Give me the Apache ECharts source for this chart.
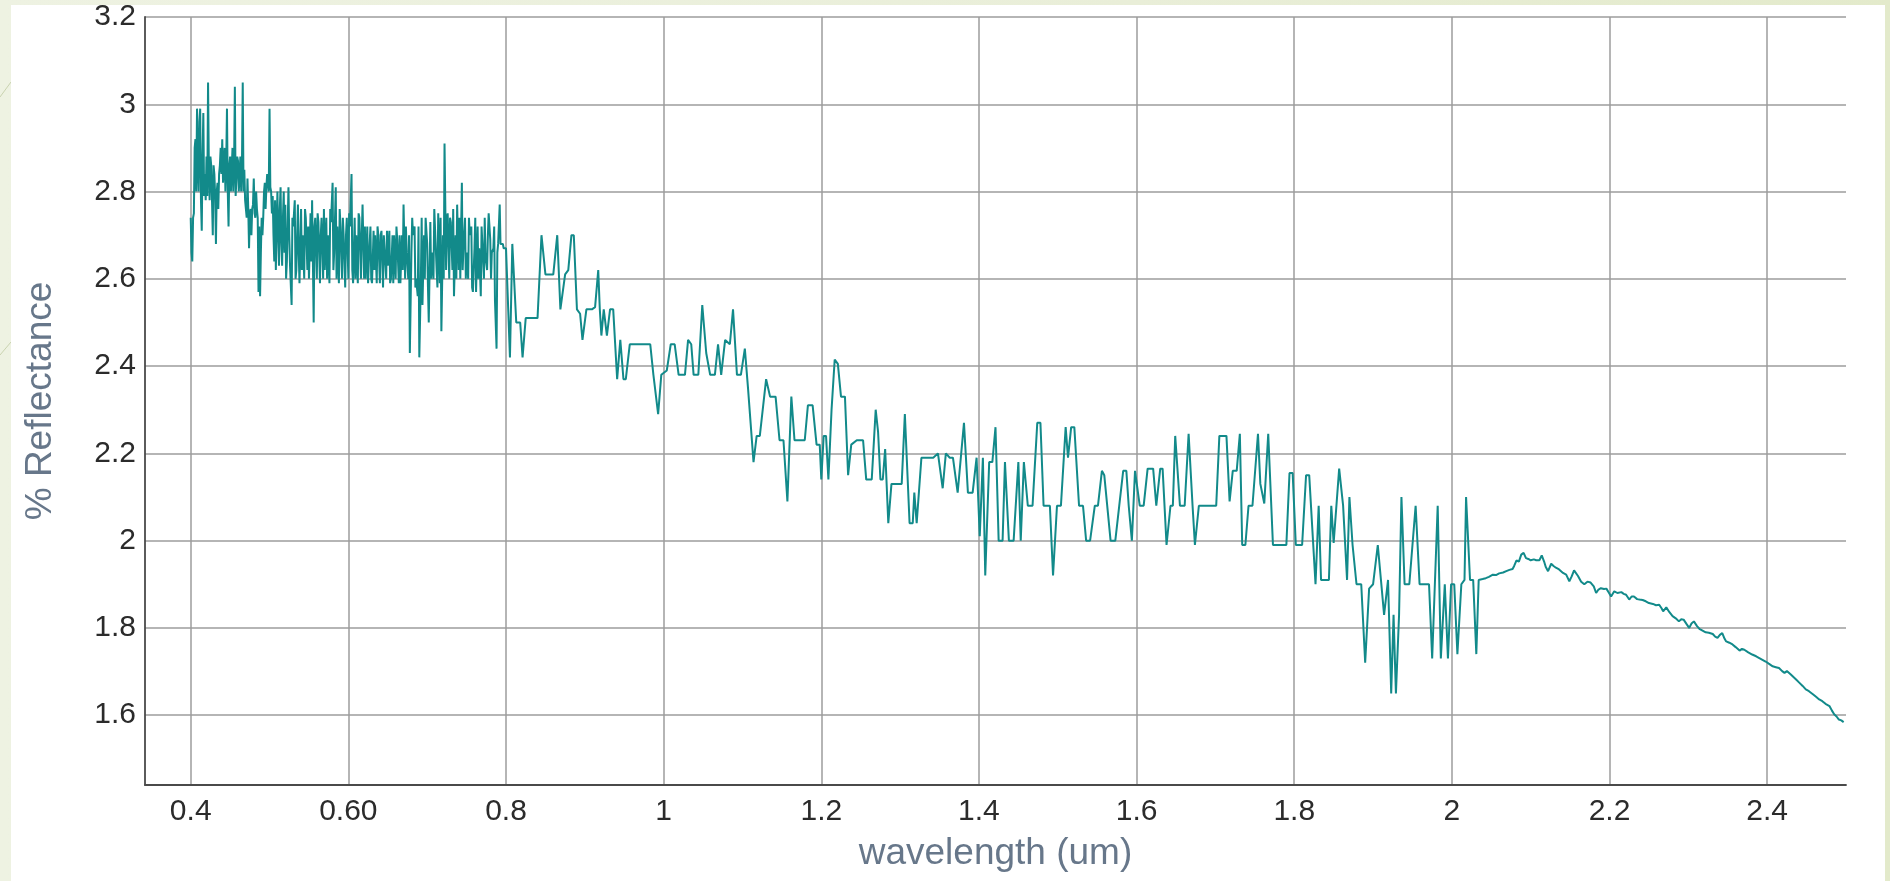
<!DOCTYPE html>
<html>
<head>
<meta charset="utf-8">
<script src="https://cdn.jsdelivr.net/npm/echarts@6/dist/echarts.min.js"></script>
<style>
  html, body { margin: 0; padding: 0; width: 1890px; height: 881px; overflow: hidden;
    background: linear-gradient(90deg, #eef2e2 0%, #e9eed8 60%, #e3eacb 100%); }
  #panel { position: absolute; left: 11px; top: 5px; width: 1874px; height: 876px; background: #ffffff; }
  #decor { position: absolute; left: 0; top: 0; }
  #chart { position: absolute; left: 0; top: 0; width: 1890px; height: 881px; }
</style>
</head>
<body>
<svg id="decor" width="1890" height="881">
  <line x1="0" y1="97" x2="11" y2="82" stroke="#c9d3b0" stroke-width="1"/>
  <line x1="0" y1="355" x2="11" y2="342" stroke="#c9d3b0" stroke-width="1"/>
</svg>
<div id="panel"></div>
<div id="chart"></div>
<script>
// Reflectance spectrum, [wavelength (um), % reflectance]
const blueBand = [
  [0.400,2.74],[0.401,2.66],[0.402,2.64],[0.403,2.74],[0.404,2.75],[0.405,2.90],[0.406,2.92],[0.407,2.80],[0.408,2.99],[0.409,2.86],
  [0.410,2.80],[0.411,2.96],[0.412,2.99],[0.413,2.78],[0.414,2.71],[0.415,2.88],[0.416,2.98],[0.417,2.79],[0.418,2.84],[0.419,2.78],
  [0.420,2.88],[0.421,2.79],[0.422,3.05],[0.423,2.86],[0.424,2.78],[0.425,2.88],[0.426,2.86],[0.427,2.78],[0.428,2.70],[0.429,2.86],
  [0.430,2.84],[0.431,2.79],[0.432,2.68],[0.433,2.80],[0.434,2.82],[0.435,2.76],[0.436,2.84],[0.437,2.86],[0.438,2.90],[0.439,2.84],
  [0.440,2.92],[0.441,2.82],[0.442,2.86],[0.443,2.90],[0.444,2.80],[0.445,2.86],[0.446,2.99],[0.447,2.80],[0.448,2.72],[0.449,2.86],
  [0.450,2.88],[0.451,2.80],[0.452,2.85],[0.453,2.90],[0.454,2.80],[0.455,2.86],[0.456,3.04],[0.457,2.79],[0.458,2.83],[0.459,2.88],
  [0.460,2.87],[0.461,2.80],[0.462,2.84],[0.463,2.88],[0.464,2.80],[0.465,2.86],[0.466,3.05],[0.467,2.80],[0.468,2.85],[0.469,2.78],
  [0.470,2.76],[0.471,2.74],[0.472,2.83],[0.473,2.76],[0.474,2.67],[0.475,2.75],[0.476,2.76],[0.477,2.70],[0.478,2.76],[0.479,2.77],
  [0.480,2.83],[0.481,2.75],[0.482,2.74],[0.483,2.80],[0.484,2.76],[0.485,2.74],[0.486,2.57],[0.487,2.72],[0.488,2.56],[0.489,2.66],
  [0.490,2.74],[0.491,2.70],[0.492,2.74],[0.493,2.80],[0.494,2.82],[0.495,2.76],[0.496,2.81],[0.497,2.84],[0.498,2.82],[0.499,2.80],
  [0.500,2.99],[0.501,2.81],[0.502,2.80],[0.503,2.75],[0.504,2.79],[0.505,2.70],[0.506,2.64],[0.507,2.78],[0.508,2.62],[0.509,2.72],
  [0.510,2.80],[0.511,2.70],[0.512,2.63],[0.513,2.76],[0.514,2.81],[0.515,2.68],[0.516,2.63],[0.517,2.74],[0.518,2.80],[0.519,2.66]
];

const visBand = [
  [0.520,2.77],[0.521,2.60],[0.522,2.64],[0.524,2.81],[0.525,2.70],[0.526,2.63],[0.528,2.54],[0.529,2.74],[0.530,2.72],[0.532,2.78],
  [0.533,2.60],[0.534,2.62],[0.536,2.77],[0.537,2.66],[0.538,2.59],[0.540,2.76],[0.541,2.62],[0.542,2.70],[0.544,2.60],[0.545,2.76],
  [0.546,2.74],[0.548,2.62],[0.549,2.72],[0.550,2.60],[0.552,2.75],[0.553,2.64],[0.554,2.78],[0.556,2.50],[0.557,2.72],[0.558,2.74],
  [0.560,2.60],[0.561,2.75],[0.562,2.73],[0.564,2.59],[0.565,2.70],[0.566,2.74],[0.568,2.60],[0.569,2.76],[0.570,2.62],[0.572,2.74],
  [0.573,2.60],[0.574,2.70],[0.576,2.59],[0.577,2.76],[0.578,2.73],[0.580,2.82],[0.581,2.62],[0.582,2.66],[0.584,2.81],[0.585,2.60],
  [0.586,2.72],[0.588,2.59],[0.589,2.76],[0.590,2.72],[0.592,2.60],[0.593,2.74],[0.594,2.70],[0.596,2.58],[0.597,2.70],[0.598,2.74],
  [0.600,2.60],[0.601,2.75],[0.602,2.72],[0.604,2.84],[0.605,2.62],[0.606,2.59],[0.608,2.74],[0.609,2.60],[0.610,2.70],[0.612,2.59],
  [0.613,2.75],[0.614,2.74],[0.616,2.60],[0.617,2.70],[0.618,2.77],[0.620,2.60],[0.621,2.72],[0.622,2.60],[0.624,2.72],[0.625,2.59],
  [0.626,2.64],[0.628,2.72],[0.629,2.60],[0.630,2.59],[0.632,2.71],[0.633,2.62],[0.634,2.70],[0.636,2.59],[0.637,2.72],[0.638,2.70],
  [0.640,2.59],[0.641,2.70],[0.642,2.71],[0.644,2.58],[0.645,2.70],[0.646,2.70],[0.648,2.60],[0.649,2.71],[0.650,2.63],[0.652,2.71],
  [0.653,2.59],[0.654,2.60],[0.656,2.70],[0.657,2.59],[0.658,2.70],[0.660,2.60],[0.661,2.72],[0.662,2.69],[0.664,2.59],[0.665,2.70],
  [0.666,2.59],[0.668,2.70],[0.669,2.62],[0.670,2.77],[0.672,2.60],[0.673,2.72],[0.674,2.66],[0.676,2.60],[0.677,2.70],[0.678,2.43],
  [0.680,2.66],[0.681,2.74],[0.682,2.70],[0.684,2.72],[0.685,2.58],[0.686,2.60],[0.688,2.56],[0.689,2.72],[0.690,2.42],[0.692,2.60],
  [0.693,2.74],[0.694,2.54],[0.696,2.70],[0.697,2.60],[0.698,2.74],[0.700,2.68],[0.701,2.58],[0.702,2.50],[0.704,2.73],[0.705,2.60],
  [0.706,2.66],[0.708,2.60],[0.709,2.76],[0.710,2.76],[0.712,2.62],[0.713,2.58],[0.714,2.75],[0.716,2.59],[0.717,2.74],[0.718,2.48],
  [0.720,2.70],[0.721,2.60],[0.722,2.91],[0.724,2.62],[0.725,2.74],[0.726,2.75],[0.728,2.60],[0.729,2.74],[0.730,2.73],[0.732,2.62],
  [0.733,2.76],[0.734,2.56],[0.736,2.70],[0.737,2.60],[0.738,2.77],[0.740,2.62],[0.741,2.74],[0.742,2.60],[0.744,2.82],[0.745,2.62],
  [0.746,2.67],[0.748,2.74],[0.749,2.60],[0.750,2.66],[0.752,2.60],[0.753,2.74],[0.754,2.70],[0.756,2.72],[0.757,2.58],[0.758,2.57],
  [0.760,2.67],[0.761,2.74],[0.762,2.57],[0.764,2.72],[0.765,2.60],[0.766,2.67],[0.768,2.56],[0.769,2.72],[0.770,2.68],[0.772,2.60],
  [0.773,2.74],[0.774,2.65],[0.776,2.62],[0.777,2.70],[0.778,2.75],[0.780,2.69],[0.781,2.60],[0.782,2.66],[0.784,2.67],[0.785,2.72],
  [0.786,2.55],[0.788,2.44],[0.789,2.66],[0.790,2.68],[0.792,2.77],[0.793,2.68],[0.794,2.68],[0.796,2.68],[0.797,2.67],[0.798,2.67],
  [0.800,2.67]
];

const nirBand = [
  [0.805,2.42],[0.808,2.68],[0.813,2.50],[0.818,2.50],[0.821,2.42],[0.825,2.51],[0.830,2.51],[0.835,2.51],[0.840,2.51],[0.845,2.70],
  [0.850,2.61],[0.855,2.61],[0.860,2.61],[0.865,2.70],[0.869,2.53],[0.875,2.61],[0.879,2.62],[0.883,2.70],[0.886,2.70],[0.890,2.53],
  [0.894,2.52],[0.897,2.46],[0.902,2.53],[0.909,2.53],[0.913,2.535],[0.917,2.62],[0.919,2.53],[0.921,2.47],[0.924,2.53],[0.928,2.47],
  [0.932,2.53],[0.936,2.53],[0.941,2.37],[0.945,2.46],[0.949,2.37],[0.952,2.37],[0.957,2.45],[0.962,2.45],[0.968,2.45],[0.973,2.45],
  [0.978,2.45],[0.983,2.45],[0.987,2.38],[0.993,2.29],[0.997,2.38],[1.004,2.39],[1.009,2.45],[1.014,2.45],[1.019,2.38],[1.023,2.38],
  [1.027,2.38],[1.031,2.46],[1.035,2.45],[1.038,2.38],[1.044,2.38],[1.049,2.54],[1.054,2.43],[1.059,2.38],[1.065,2.38],[1.069,2.45],
  [1.073,2.38],[1.078,2.46],[1.084,2.45],[1.088,2.53],[1.093,2.38],[1.098,2.38],[1.103,2.44],[1.107,2.35],[1.114,2.18],[1.118,2.24],
  [1.122,2.24],[1.130,2.37],[1.135,2.33],[1.142,2.33],[1.147,2.23],[1.152,2.23],[1.157,2.09],[1.162,2.33],[1.166,2.23],[1.173,2.23],
  [1.179,2.23],[1.183,2.31],[1.189,2.31],[1.194,2.22],[1.198,2.22],[1.200,2.14],[1.203,2.24],[1.206,2.24],[1.209,2.14],[1.213,2.30],
  [1.217,2.415],[1.221,2.405],[1.225,2.33],[1.230,2.33],[1.234,2.15],[1.238,2.22],[1.245,2.23],[1.253,2.23],[1.257,2.14],[1.264,2.14],
  [1.269,2.30],[1.272,2.25],[1.275,2.14],[1.278,2.14],[1.281,2.21],[1.285,2.04],[1.289,2.13],[1.293,2.13],[1.302,2.13],[1.306,2.29],
  [1.312,2.04],[1.316,2.04],[1.318,2.11],[1.321,2.04],[1.327,2.19],[1.333,2.19],[1.342,2.19],[1.348,2.20],[1.354,2.12],[1.358,2.20],
  [1.363,2.19],[1.367,2.19],[1.373,2.11],[1.381,2.27],[1.386,2.11],[1.392,2.11],[1.397,2.19]
];

const swirBand = [
  [1.401,2.01],[1.405,2.19],[1.408,1.92],[1.413,2.18],[1.417,2.18],[1.421,2.26],[1.425,2.00],[1.430,2.00],[1.433,2.18],[1.438,2.00],
  [1.444,2.00],[1.450,2.18],[1.453,2.00],[1.457,2.18],[1.462,2.08],[1.468,2.08],[1.474,2.27],[1.478,2.27],[1.482,2.08],[1.490,2.08],
  [1.494,1.92],[1.499,2.08],[1.504,2.08],[1.510,2.26],[1.513,2.19],[1.517,2.26],[1.521,2.26],[1.527,2.08],[1.532,2.08],[1.536,2.00],
  [1.541,2.00],[1.547,2.08],[1.551,2.08],[1.556,2.16],[1.559,2.15],[1.567,2.00],[1.573,2.00],[1.578,2.08],[1.583,2.16],[1.587,2.16],
  [1.590,2.08],[1.594,2.00],[1.598,2.16],[1.604,2.08],[1.609,2.08],[1.614,2.165],[1.621,2.165],[1.625,2.08],[1.630,2.165],[1.633,2.165],
  [1.638,1.99],[1.643,2.08],[1.646,2.08],[1.649,2.24],[1.655,2.08],[1.661,2.08],[1.666,2.245],[1.671,2.08],[1.674,1.99],[1.679,2.08],
  [1.688,2.08],[1.701,2.08],[1.705,2.24],[1.714,2.24],[1.718,2.09],[1.722,2.16],[1.727,2.16],[1.731,2.245],[1.734,1.99],[1.738,1.99],
  [1.742,2.08],[1.747,2.08],[1.754,2.245],[1.757,2.13],[1.762,2.085],[1.767,2.245],[1.773,1.99],[1.781,1.99],[1.790,1.99],[1.794,2.155],
  [1.798,2.155],[1.802,1.99],[1.810,1.99],[1.815,2.15],[1.819,2.15],[1.827,1.90],[1.831,2.08],[1.834,1.91],[1.838,1.91],[1.844,1.91],
  [1.847,2.08],[1.850,1.995],[1.857,2.165],[1.862,2.08],[1.867,1.91],[1.870,2.10],[1.874,1.99],[1.879,1.90],[1.885,1.90],[1.890,1.72],
  [1.895,1.89],[1.900,1.90],[1.906,1.99],[1.910,1.91],[1.914,1.83],[1.919,1.91],[1.923,1.65],[1.926,1.83],[1.929,1.65],[1.933,1.83],
  [1.936,2.10],[1.940,1.90],[1.946,1.90],[1.954,2.08],[1.959,1.90],[1.965,1.90],[1.971,1.90],[1.975,1.73],[1.982,2.08],[1.986,1.73],
  [1.991,1.90],[1.995,1.73],[1.999,1.90],[2.003,1.90],[2.007,1.74],[2.012,1.90],[2.016,1.91],[2.018,2.10],[2.023,1.91],[2.027,1.91],
  [2.031,1.74],[2.034,1.91]
];

const farBand = [
  [2.039,1.912],[2.043,1.914],[2.047,1.917],[2.052,1.922],[2.056,1.921],[2.060,1.925],[2.065,1.927],[2.069,1.930],[2.073,1.933],[2.077,1.935],
  [2.079,1.942],[2.082,1.955],[2.085,1.952],[2.088,1.968],[2.091,1.972],[2.094,1.960],[2.097,1.958],[2.100,1.955],[2.104,1.957],[2.107,1.955],
  [2.111,1.955],[2.114,1.966],[2.117,1.952],[2.119,1.940],[2.122,1.930],[2.126,1.947],[2.129,1.942],[2.132,1.938],[2.136,1.934],[2.141,1.926],
  [2.145,1.922],[2.149,1.907],[2.152,1.918],[2.155,1.932],[2.160,1.919],[2.164,1.906],[2.168,1.900],[2.172,1.906],[2.176,1.904],[2.180,1.895],
  [2.183,1.880],[2.186,1.888],[2.189,1.891],[2.193,1.889],[2.196,1.890],[2.199,1.881],[2.202,1.872],[2.206,1.884],[2.210,1.880],[2.215,1.882],
  [2.218,1.878],[2.221,1.876],[2.225,1.865],[2.228,1.872],[2.231,1.872],[2.235,1.866],[2.238,1.865],[2.242,1.864],[2.246,1.861],[2.250,1.857],
  [2.255,1.855],[2.259,1.852],[2.263,1.853],[2.266,1.845],[2.268,1.838],[2.272,1.847],[2.276,1.836],[2.280,1.827],[2.284,1.822],[2.288,1.815],
  [2.291,1.820],[2.294,1.819],[2.298,1.808],[2.301,1.800],[2.304,1.810],[2.307,1.815],[2.311,1.804],[2.314,1.798],[2.318,1.794],[2.322,1.790],
  [2.326,1.789],[2.331,1.786],[2.334,1.780],[2.337,1.777],[2.340,1.784],[2.343,1.788],[2.346,1.775],[2.348,1.769],[2.352,1.766],[2.356,1.762],
  [2.360,1.756],[2.365,1.748],[2.368,1.752],[2.371,1.750],[2.376,1.744],[2.381,1.739],[2.386,1.735],[2.390,1.731],[2.394,1.727],[2.398,1.723],
  [2.402,1.718],[2.407,1.712],[2.411,1.710],[2.415,1.708],[2.419,1.701],[2.422,1.697],[2.425,1.701],[2.427,1.700],[2.430,1.693],[2.432,1.689],
  [2.437,1.681],[2.441,1.674],[2.445,1.667],[2.449,1.659],[2.453,1.655],[2.458,1.648],[2.462,1.642],[2.466,1.636],[2.470,1.632],[2.474,1.626],
  [2.479,1.621],[2.482,1.611],[2.485,1.602],[2.488,1.597],[2.491,1.590],[2.494,1.588],[2.497,1.584]
];

// Axis ticks and their printed labels
const xTickValues = [0.4, 0.6, 0.8, 1.0, 1.2, 1.4, 1.6, 1.8, 2.0, 2.2, 2.4];
const xTickLabels = ['0.4', '0.60', '0.8', '1', '1.2', '1.4', '1.6', '1.8', '2', '2.2', '2.4'];
const yTickValues = [1.6, 1.8, 2.0, 2.2, 2.4, 2.6, 2.8, 3.0, 3.2];
const yTickLabels = ['1.6', '1.8', '2', '2.2', '2.4', '2.6', '2.8', '3', '3.2'];

const xAxisTitle = 'wavelength (um)';
const yAxisTitle = '% Reflectance';

function tickText(values, labels) {
  return function (v) {
    const i = values.findIndex(t => Math.abs(t - v) < 1e-6);
    return i < 0 ? '' : labels[i];
  };
}

const spectrum = blueBand.concat(visBand, nirBand, swirBand, farBand);

const FONT = '"Liberation Sans", Arial, sans-serif';
const chart = echarts.init(document.getElementById('chart'), null, { renderer: 'canvas' });

chart.setOption({
  animation: false,
  backgroundColor: 'transparent',
  grid: { left: 145, right: 44, top: 17, bottom: 96 },
  xAxis: {
    type: 'value',
    min: 0.342,
    max: 2.5,
    splitNumber: 10,
    name: xAxisTitle,
    nameLocation: 'middle',
    nameGap: 50,
    nameTextStyle: { color: '#67778a', fontSize: 37, fontFamily: FONT },
    axisLine: { show: true, onZero: false, lineStyle: { color: '#4a4a4a', width: 1.8 } },
    axisTick: { show: false },
    axisLabel: {
      color: '#2b2b2b', fontSize: 30, fontFamily: FONT, margin: 12,
      showMinLabel: false, showMaxLabel: false,
      formatter: tickText(xTickValues, xTickLabels)
    },
    splitLine: { show: true, showMinLine: false, showMaxLine: false, lineStyle: { color: '#9c9c9c', width: 1.5 } }
  },
  yAxis: {
    type: 'value',
    min: 1.44,
    max: 3.2,
    splitNumber: 9,
    name: yAxisTitle,
    nameLocation: 'middle',
    nameGap: 86,
    nameRotate: 90,
    nameTextStyle: { color: '#67778a', fontSize: 37, fontFamily: FONT },
    axisLine: { show: true, onZero: false, lineStyle: { color: '#4a4a4a', width: 1.8 } },
    axisTick: { show: false },
    axisLabel: {
      color: '#2b2b2b', fontSize: 30, fontFamily: FONT, margin: 9,
      showMinLabel: false,
      formatter: tickText(yTickValues, yTickLabels)
    },
    splitLine: { show: true, showMinLine: false, lineStyle: { color: '#9c9c9c', width: 1.5 } }
  },
  series: [{
    type: 'line',
    data: spectrum,
    showSymbol: false,
    sampling: null,
    lineStyle: { color: '#128a8a', width: 2 },
    itemStyle: { color: '#128a8a' }
  }]
});
</script>
</body>
</html>
